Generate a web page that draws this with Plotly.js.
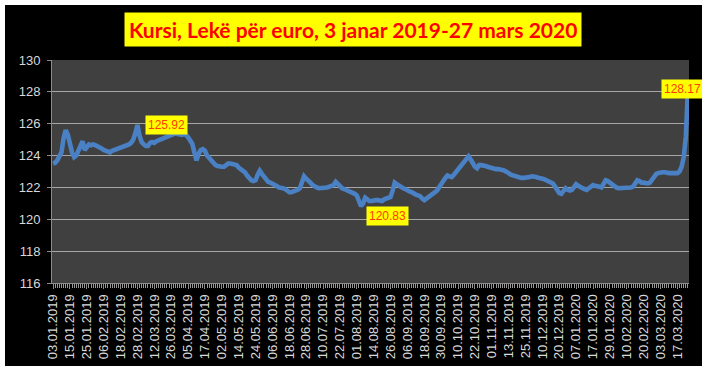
<!DOCTYPE html>
<html>
<head>
<meta charset="utf-8">
<script src="https://cdn.plot.ly/plotly-3.0.1.min.js"></script>
<style>
  html, body { margin: 0; padding: 0; background: #ffffff; width: 710px; height: 373px; overflow: hidden; }
  #chart { position: absolute; left: 5px; top: 5px; width: 697px; height: 361px; }
</style>
</head>
<body>
<div id="chart"></div>
<script>
// Tick labels (every 8th trading day)
const tickLabels = [
  "03.01.2019","15.01.2019","25.01.2019","06.02.2019","18.02.2019","28.02.2019",
  "12.03.2019","26.03.2019","05.04.2019","17.04.2019","02.05.2019","14.05.2019",
  "24.05.2019","06.06.2019","18.06.2019","28.06.2019","10.07.2019","22.07.2019",
  "01.08.2019","14.08.2019","26.08.2019","06.09.2019","18.09.2019","30.09.2019",
  "10.10.2019","22.10.2019","01.11.2019","13.11.2019","25.11.2019","10.12.2019",
  "20.12.2019","07.01.2020","17.01.2020","29.01.2020","10.02.2020","20.02.2020",
  "03.03.2020","17.03.2020"
];

// Daily exchange rate, Lek per euro
const rates = [
  123.5,123.55,123.7,123.9,124.2,125.1,125.6,125.3,124.7,124.2,
  123.9,124.0,124.3,124.7,124.9,124.35,124.6,124.7,124.65,124.7,
  124.65,124.6,124.55,124.45,124.35,124.3,124.2,124.2,124.3,124.35,
  124.4,124.45,124.5,124.5,124.55,124.6,124.7,124.8,125.0,125.4,
  125.92,125.25,124.85,124.7,124.6,124.6,124.8,124.85,124.8,124.9,
  124.95,125.0,125.05,125.1,125.15,125.2,125.3,125.35,125.4,125.35,
  125.3,125.3,125.35,125.3,125.15,125.0,124.75,124.2,123.7,124.1,
  124.35,124.4,124.3,124.0,123.85,123.65,123.5,123.4,123.35,123.3,
  123.3,123.3,123.4,123.5,123.5,123.45,123.45,123.4,123.25,123.15,
  123.05,122.95,122.75,122.55,122.45,122.4,122.45,122.8,123.05,122.85,
  122.65,122.5,122.35,122.3,122.25,122.2,122.1,122.0,122.0,121.95,
  121.9,121.8,121.7,121.7,121.75,121.75,121.85,121.95,122.3,122.7,
  122.55,122.45,122.3,122.15,122.05,122.0,121.95,121.95,122.0,122.0,
  122.0,122.05,122.1,122.15,122.35,122.2,122.0,121.95,121.9,121.85,
  121.8,121.75,121.7,121.6,121.5,121.1,120.83,121.0,121.35,121.25,
  121.15,121.15,121.2,121.2,121.2,121.15,121.15,121.25,121.3,121.35,
  121.4,121.8,122.3,122.2,122.1,122.0,121.95,121.9,121.8,121.75,
  121.7,121.6,121.55,121.5,121.45,121.3,121.2,121.3,121.4,121.5,
  121.55,121.7,121.8,122.0,122.15,122.4,122.6,122.75,122.7,122.65,
  122.8,122.95,123.1,123.25,123.4,123.55,123.75,123.95,123.75,123.5,
  123.3,123.2,123.4,123.4,123.4,123.35,123.3,123.25,123.2,123.15,
  123.15,123.15,123.15,123.1,123.05,123.0,122.9,122.8,122.75,122.7,
  122.65,122.6,122.6,122.6,122.6,122.65,122.65,122.7,122.7,122.65,
  122.6,122.6,122.55,122.5,122.45,122.4,122.3,122.25,122.05,121.85,
  121.65,121.6,121.8,121.95,121.85,121.8,121.85,122.05,122.2,122.1,
  122.0,121.95,121.9,121.85,121.95,122.1,122.15,122.1,122.1,122.05,
  122.0,122.2,122.45,122.4,122.3,122.2,122.05,122.0,121.95,121.95,
  121.95,122.0,122.0,122.0,122.0,122.05,122.2,122.45,122.4,122.3,
  122.3,122.25,122.25,122.3,122.5,122.7,122.85,122.9,122.95,122.95,
  122.95,122.9,122.9,122.9,122.9,122.9,122.9,123.0,123.3,123.9,
  125.2,128.17
];

// Highlighted values
const labelledValues = [125.92, 120.83, 128.17];

const titleText = "Kursi, Lekë për euro, 3 janar 2019-27 mars 2020";

const xIdx = rates.map((_, i) => i);
const tickStep = 8;
const tickVals = tickLabels.map((_, k) => k * tickStep);

const shifts = [[29, 0], [26, -10], [-5, 0]];
const annots = labelledValues.map((v, k) => {
  const i = rates.indexOf(v);
  return {
    x: i, y: v, xref: 'x', yref: 'y', text: v.toFixed(2), showarrow: false,
    xshift: shifts[k][0], yshift: shifts[k][1],
    bgcolor: '#ffff00', borderpad: 2,
    font: { family: 'Liberation Sans, Arial, sans-serif', size: 12, color: '#ff3c00' }
  };
});
annots.push({
  xref: 'paper', yref: 'paper', x: 0.473, y: 1.135, xanchor: 'center', yanchor: 'middle',
  text: titleText, showarrow: false, bgcolor: '#ffff00', borderpad: 4,
  font: { family: 'Lato, sans-serif', size: 21, color: '#ff0000', weight: 'bold' }
});

const trace = {
  x: xIdx, y: rates, type: 'scatter', mode: 'lines',
  line: { color: '#4a80c4', width: 4.6, shape: 'linear' },
  hoverinfo: 'skip'
};

const layout = {
  width: 697, height: 361,
  margin: { l: 47, r: 13, t: 55, b: 83 },
  paper_bgcolor: '#000000',
  plot_bgcolor: '#404040',
  showlegend: false,
  font: { family: 'Liberation Sans, Arial, sans-serif', color: '#d9d9d9' },
  xaxis: {
    range: [-0.5, rates.length - 0.5],
    tickmode: 'array', tickvals: tickVals, ticktext: tickLabels,
    tickangle: -90,
    tickfont: { size: 13, color: '#d9d9d9' },
    ticks: 'outside', ticklen: 5, tickcolor: '#8c8c8c',
    minor: { tickmode: 'linear', tick0: 0, dtick: 1, ticks: 'outside', ticklen: 4, tickcolor: '#9a9a9a', showgrid: false },
    showgrid: false, zeroline: false,
    showline: true, linecolor: '#8c8c8c', linewidth: 1
  },
  yaxis: {
    range: [116, 130], dtick: 2, tick0: 116,
    tickfont: { size: 13, color: '#d9d9d9' },
    ticks: 'outside', ticklen: 4, tickcolor: '#8c8c8c',
    ticklabelstandoff: 4,
    showgrid: true, gridcolor: '#a6a6a6', gridwidth: 1,
    zeroline: false, showline: true, linecolor: '#8c8c8c', linewidth: 1
  },
  annotations: annots
};

Plotly.newPlot('chart', [trace], layout, { displayModeBar: false, staticPlot: true });
</script>
</body>
</html>
